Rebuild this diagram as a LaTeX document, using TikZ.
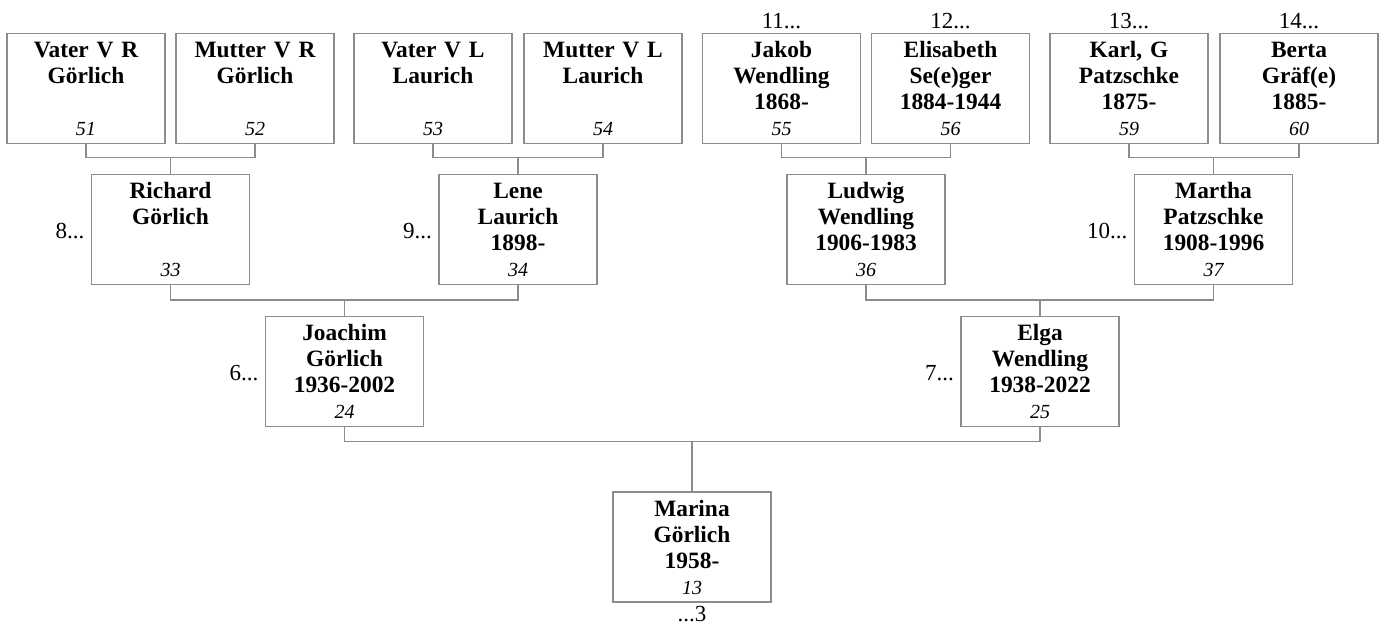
\documentclass[tikz,border=0pt]{standalone}
\usepackage{fontspec}
\setmainfont{Liberation Serif}
\usepackage{tikz}
\usetikzlibrary{positioning,calc}
\definecolor{linegray}{RGB}{140,140,140}

\tikzset{
  person/.style={draw=linegray, line width=0.7pt, fill=white, inner sep=0pt,
    minimum width=79pt, minimum height=55pt, text width=79pt, align=center,
    text height=12pt, text depth=43pt,
    font=\fontsize{11.7}{13}\selectfont\bfseries},
  link/.style={draw=linegray, line width=0.7pt},
  gen/.style={inner sep=0pt, font=\fontsize{11.5}{13}\selectfont}
}
\newcommand{\pnum}[1]{{\fontsize{10}{13}\selectfont\mdseries\itshape #1}}

\begin{document}
\begin{tikzpicture}[x=0.5pt,y=-0.5pt]
\useasboundingbox (0,0) rectangle (1382,626);

% great-grandparents
\node[person] (p51) at (86,88.5) {Vater V R\\Görlich\\\mbox{}\\\pnum{51}};
\node[person] (p52) at (255,88.5) {Mutter V R\\Görlich\\\mbox{}\\\pnum{52}};
\node[person] (p53) at (433,88.5) {Vater V L\\Laurich\\\mbox{}\\\pnum{53}};
\node[person] (p54) at (603,88.5) {Mutter V L\\Laurich\\\mbox{}\\\pnum{54}};
\node[person] (p55) at (781.5,88.5) {Jakob\\Wendling\\1868-\\\pnum{55}};
\node[person] (p56) at (950.5,88.5) {Elisabeth\\Se(e)ger\\1884-1944\\\pnum{56}};
\node[person] (p59) at (1129,88.5) {Karl, G\\Patzschke\\1875-\\\pnum{59}};
\node[person] (p60) at (1299,88.5) {Berta\\Gräf(e)\\1885-\\\pnum{60}};

% grandparents
\node[person] (p33) at (170.5,229.5) {Richard\\Görlich\\\mbox{}\\\pnum{33}};
\node[person] (p34) at (518,229.5) {Lene\\Laurich\\1898-\\\pnum{34}};
\node[person] (p36) at (866,229.5) {Ludwig\\Wendling\\1906-1983\\\pnum{36}};
\node[person] (p37) at (1213.5,229.5) {Martha\\Patzschke\\1908-1996\\\pnum{37}};

% parents
\node[person] (p24) at (344.5,371.5) {Joachim\\Görlich\\1936-2002\\\pnum{24}};
\node[person] (p25) at (1040,371.5) {Elga\\Wendling\\1938-2022\\\pnum{25}};

\node[person] (p13) at (692,547) {Marina\\Görlich\\1958-\\\pnum{13}};

% further lines
\node[gen, above=2pt of p55] {11...};
\node[gen, above=2pt of p56] {12...};
\node[gen, above=2pt of p59] {13...};
\node[gen, above=2pt of p60] {14...};
\node[gen, left=3pt of p33, yshift=-1pt] {8...};
\node[gen, left=3pt of p34, yshift=-1pt] {9...};
\node[gen, left=3pt of p37, yshift=-1pt] {10...};
\node[gen, left=3pt of p24, yshift=-1pt] {6...};
\node[gen, left=3pt of p25, yshift=-1pt] {7...};
\node[gen, below=1.5pt of p13] {...3};

% joints
\coordinate (j33) at ($(p33.north)+(0,-16)$);
\coordinate (j34) at ($(p34.north)+(0,-16)$);
\coordinate (j36) at ($(p36.north)+(0,-16)$);
\coordinate (j37) at ($(p37.north)+(0,-16)$);
\coordinate (j24) at ($(p24.north)+(0,-16)$);
\coordinate (j25) at ($(p25.north)+(0,-16)$);
\coordinate (j13) at ($(p13.north)+(0,-50)$);

\draw[link] (p51.south) |- (j33) -| (p52.south);
\draw[link] (j33) -- (p33.north);
\draw[link] (p53.south) |- (j34) -| (p54.south);
\draw[link] (j34) -- (p34.north);
\draw[link] (p55.south) |- (j36) -| (p56.south);
\draw[link] (j36) -- (p36.north);
\draw[link] (p59.south) |- (j37) -| (p60.south);
\draw[link] (j37) -- (p37.north);
\draw[link] (p33.south) |- (j24) -| (p34.south);
\draw[link] (j24) -- (p24.north);
\draw[link] (p36.south) |- (j25) -| (p37.south);
\draw[link] (j25) -- (p25.north);
\draw[link] (p24.south) |- (j13) -| (p25.south);
\draw[link] (j13) -- (p13.north);
\end{tikzpicture}
\end{document}
